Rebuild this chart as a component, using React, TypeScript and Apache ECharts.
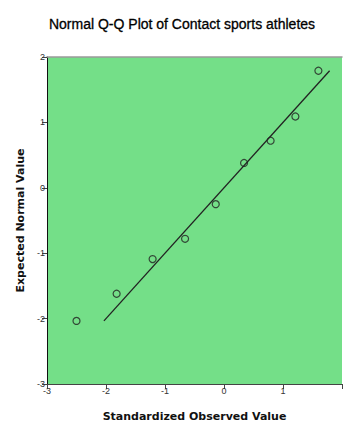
import React, { useEffect, useRef } from "react";
import * as echarts from "echarts";

const titleText = "Normal Q-Q Plot of Contact sports athletes";
const xAxisName = "Standardized Observed Value";
const yAxisName = "Expected Normal Value";
const observed = [-2.5, -1.82, -1.21, -0.66, -0.14, 0.34, 0.79, 1.21, 1.6];
const expected = [-2.035, -1.62, -1.09, -0.78, -0.25, 0.38, 0.72, 1.09, 1.79];
const refLineX = [-2.035, 1.79];
const tickLabelsX = ["-3", "-2", "-1", "0", "1"];

export default function App() {
  const ref = useRef<HTMLDivElement>(null);
  useEffect(() => {
    if (!ref.current) return;
    const chart = echarts.init(ref.current, undefined, { renderer: "svg" });
    const points = observed.map((x, i) => [x, expected[i]]);
    chart.setOption({
      animation: false,
      backgroundColor: "#ffffff",
      title: {
        text: titleText,
        left: 177,
        top: 12,
        textAlign: "center",
        textStyle: {
          fontFamily: "Liberation Sans, Arial",
          fontSize: 14,
          fontWeight: "normal",
          color: "#000",
          textBorderColor: "#000",
          textBorderWidth: 0.3,
        },
      },
      grid: {
        left: 47,
        top: 57,
        right: -3,
        bottom: 42,
        show: true,
        backgroundColor: "#74df88",
        borderWidth: 0,
      },
      xAxis: [
        {
          type: "value",
          min: -3,
          max: 2,
          interval: 1,
          name: xAxisName,
          nameLocation: "middle",
          nameGap: 27,
          nameTextStyle: {
            fontFamily: "DejaVu Sans",
            fontWeight: "bold",
            fontSize: 11,
            color: "#111",
          },
          splitLine: { show: false },
          axisLine: { onZero: false, lineStyle: { color: "#444", width: 1 } },
          axisTick: { length: 5, lineStyle: { color: "#444" } },
          axisLabel: {
            fontFamily: "Liberation Sans, Arial",
            fontSize: 9,
            color: "#333",
            margin: 2,
            formatter: (v: number) => {
              const s = String(v);
              return tickLabelsX.includes(s) ? s : "";
            },
          },
        },
        {
          type: "value",
          position: "top",
          min: -3,
          max: 2,
          axisLine: { show: true, onZero: false, lineStyle: { color: "#9a9a9a", width: 1.5 } },
          axisTick: { show: false },
          axisLabel: { show: false },
          splitLine: { show: false },
        },
      ],
      yAxis: {
        type: "value",
        min: -3,
        max: 2,
        interval: 1,
        name: yAxisName,
        nameLocation: "middle",
        nameGap: 17,
        nameTextStyle: {
          fontFamily: "DejaVu Sans",
          fontWeight: "bold",
          fontSize: 11,
          color: "#111",
        },
        splitLine: { show: false },
        axisLine: { show: true, onZero: false, lineStyle: { color: "#111", width: 1 } },
        axisTick: { show: true, length: 5, lineStyle: { color: "#444" } },
        axisLabel: {
          fontFamily: "Liberation Sans, Arial",
          fontSize: 9,
          color: "#333",
          margin: 2,
        },
      },
      series: [
        {
          type: "line",
          data: refLineX.map((x) => [x, x]),
          showSymbol: false,
          symbol: "none",
          lineStyle: { color: "#222", width: 1.3 },
          silent: true,
        },
        {
          type: "scatter",
          data: points,
          symbol: "circle",
          symbolSize: 7,
          itemStyle: { color: "transparent", borderColor: "#222", borderWidth: 1.2 },
        },
      ],
    });
    return () => chart.dispose();
  }, []);
  return (
    <div
      ref={ref}
      style={{ position: "fixed", left: 0, top: 0, width: 345, height: 427 }}
    />
  );
}
